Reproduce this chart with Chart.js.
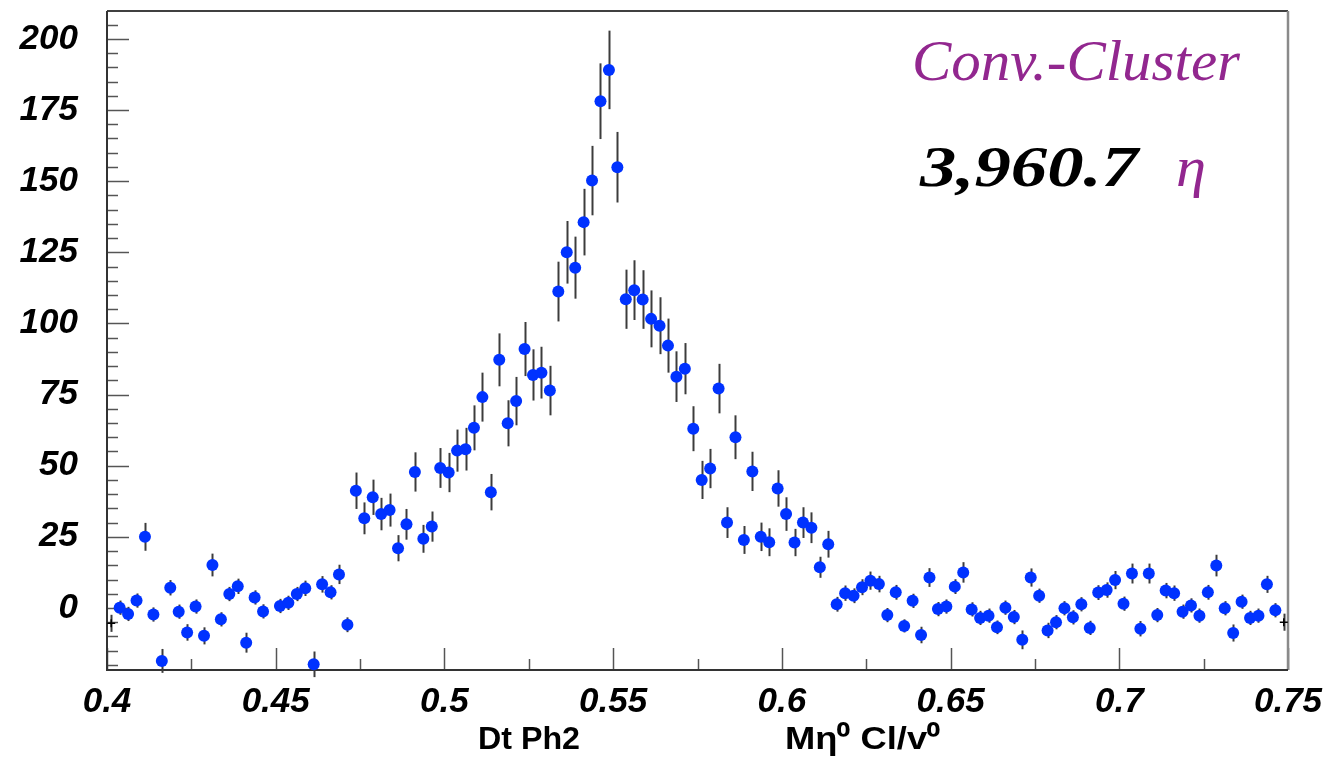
<!DOCTYPE html>
<html>
<head>
<meta charset="utf-8">
<script src="https://cdn.jsdelivr.net/npm/chart.js@4.4.1/dist/chart.umd.min.js"></script>
<style>
html,body{margin:0;padding:0;background:#fff}
#wrap{width:1332px;height:757px}
</style>
</head>
<body>
<div id="wrap"><canvas id="myChart" width="1332" height="757"></canvas></div>
<script>
// histogram binning: 140 bins of 0.0025 from 0.4 to 0.75
const BIN_LO = 0.4
const BIN_W = 0.0025

// background-subtracted counts per bin (null = no point shown)
const counts = [
  -5.4, 0.1, -2.1, 2.6, 25, -2.3, -18.6, 7.1, -1.3, -8.6,
  0.5, -9.8, 15.1, -4, 4.9, 7.6, -12.2, 3.7, -1.2, null,
  0.7, 1.8, 4.9, 6.9, -19.8, 8.3, 5.5, 11.8, -5.9, 41.2,
  31.5, 38.9, 33, 34.4, 21, 29.4, 47.8, 24.3, 28.6, 49.2,
  47.6, 55.3, 55.8, 63.3, 74.1, 40.7, 87.2, 64.9, 72.7, 91,
  81.9, 82.7, 76.4, 111.2, 125, 119.6, 135.6, 150.2, 178.1, 189.1,
  154.9, 108.5, 111.7, 108.4, 101.6, 99.2, 92.2, 81.3, 84.1, 63,
  45, 49, 77.1, 30, 60, 23.9, 48, 25, 23.1, 42,
  33, 23, 30, 28.2, 14.3, 22.4, 1.3, 5.2, 4.3, 7.3,
  9.6, 8.4, -2.5, 5.5, -6.3, 2.5, -9.5, 10.7, -0.4, 0.5,
  7.5, 12.5, -0.5, -3.5, -2.7, -6.8, 0.1, -3.2, -11.2, 10.7,
  4.3, -7.9, -5, -0.1, -3.3, 1.3, -7, 5.4, 6.3, 9.8,
  1.5, 12.1, -7.3, 12.1, -2.5, 6.1, 5.2, -1.3, 0.9, -2.7,
  5.5, 14.9, -0.1, -8.8, 2.2, -3.5, -2.7, 8.3, -0.8, -5
]
const errors = [
  3, 2.5, 2.5, 2.5, 4.9, 2.5, 4.2, 2.7, 2.5, 2.9,
  2.5, 3, 4, 2.5, 2.5, 2.7, 3.5, 2.5, 2.5, 0,
  2.5, 2.5, 2.5, 2.7, 4.5, 2.9, 2.5, 3.4, 2.6, 6.4,
  5.6, 6.2, 5.7, 5.8, 4.6, 5.4, 6.9, 4.9, 5.3, 7,
  6.9, 7.4, 7.5, 7.9, 8.6, 6.4, 9.3, 8.1, 8.5, 9.5,
  9, 9.1, 8.7, 10.5, 11, 10.9, 11.7, 12.2, 13.3, 13.8,
  12.4, 10.4, 10.5, 10.3, 10, 10, 9.5, 8.9, 9, 7.9,
  6.7, 6.9, 8.7, 5.4, 7.7, 4.9, 6.9, 5, 4.9, 6.4,
  5.9, 4.8, 5.4, 5.4, 3.7, 4.7, 2.6, 2.7, 2.6, 2.8,
  3.2, 2.9, 2.5, 2.6, 2.3, 2.5, 2.9, 3.3, 2.5, 2.5,
  2.6, 3.6, 2.5, 2.5, 2.5, 2.4, 2.5, 2.5, 3.3, 3.2,
  2.5, 2.7, 2.5, 2.5, 2.5, 2.5, 2.5, 2.6, 2.7, 3.2,
  2.5, 3.5, 2.7, 3.5, 2.5, 2.7, 2.7, 2.5, 2.5, 2.5,
  2.6, 3.8, 2.5, 3, 2.5, 2.5, 2.5, 3, 2.5, 3
]

const xTicks = [0.4, 0.45, 0.5, 0.55, 0.6, 0.65, 0.7, 0.75]
const xTickLabels = ["0.4", "0.45", "0.5", "0.55", "0.6", "0.65", "0.7", "0.75"]
const yTicks = [0, 25, 50, 75, 100, 125, 150, 175, 200]

const legendTitle = "Conv.-Cluster"
const yieldText = "3,960.7"
const yieldSymbol = "η"
const xTitleLeft = "Dt Ph2"
const xTitleRight = "Mη⁰ Cl/v⁰"

const PURPLE = '#92278f'
const LABEL_FONT = {family: "'Liberation Sans', Arial, sans-serif", size: 35, style: 'italic', weight: 'bold'}

var points = []
counts.forEach((c, i) => {
    if (c === null) return
    points.push({x: BIN_LO + BIN_W * (i + 0.5), y: c, err: errors[i], edge: (i === 0 || i === counts.length - 1)})
})

const errorBars = {
    id: 'errorBars',
    beforeDatasetsDraw(chart) {
        const ctx = chart.ctx, xs = chart.scales.x, ys = chart.scales.y
        ctx.save()
        ctx.strokeStyle = '#3c3c3c'
        ctx.lineWidth = 2
        points.forEach(p => {
            if (!p.err) return
            const px = Math.round(xs.getPixelForValue(p.x)) + 0.5
            ctx.beginPath()
            ctx.moveTo(px, ys.getPixelForValue(p.y - p.err))
            ctx.lineTo(px, ys.getPixelForValue(p.y + p.err))
            ctx.stroke()
        })
        ctx.restore()
    }
}

// ROOT style frame with inward ticks
const frame = {
    id: 'frame',
    beforeDatasetsDraw(chart) {
        const ctx = chart.ctx, a = chart.chartArea, xs = chart.scales.x, ys = chart.scales.y
        ctx.save()
        ctx.strokeStyle = '#555'
        ctx.lineWidth = 1.5
        for (let v = -20; v <= 205; v += 5) {
            const py = Math.round(ys.getPixelForValue(v)) + 0.5
            const len = (v % 25 === 0) ? 22 : 11
            ctx.beginPath(); ctx.moveTo(a.left, py); ctx.lineTo(a.left + len, py); ctx.stroke()
        }
        for (let k = 0; k <= 14; k++) {
            const v = 0.4 + k * 0.025
            const px = Math.round(xs.getPixelForValue(v)) + 0.5
            const len = (k % 2 === 0) ? 22 : 11
            ctx.beginPath(); ctx.moveTo(px, a.bottom); ctx.lineTo(px, a.bottom - len); ctx.stroke()
        }
        // frame lines
        ctx.strokeStyle = '#000'
        ctx.lineWidth = 1.5
        ctx.beginPath(); ctx.moveTo(a.left, a.top); ctx.lineTo(a.right, a.top); ctx.stroke()
        ctx.strokeStyle = '#8a8a8a'
        ctx.lineWidth = 2.5
        ctx.beginPath(); ctx.moveTo(a.right, a.top); ctx.lineTo(a.right, a.bottom); ctx.stroke()
        ctx.strokeStyle = '#333'
        ctx.lineWidth = 2
        ctx.beginPath(); ctx.moveTo(a.left, a.top); ctx.lineTo(a.left, a.bottom); ctx.lineTo(a.right, a.bottom); ctx.stroke()
        ctx.restore()
    }
}

function fitText(ctx, text, x, yBase, width, font, color) {
    ctx.font = font
    const w = ctx.measureText(text).width
    ctx.save()
    ctx.translate(x, yBase)
    ctx.scale(width / w, 1)
    ctx.fillStyle = color
    ctx.textBaseline = 'alphabetic'
    ctx.textAlign = 'left'
    ctx.fillText(text, 0, 0)
    ctx.restore()
}

const texts = {
    id: 'texts',
    afterDraw(chart) {
        const ctx = chart.ctx
        fitText(ctx, legendTitle, 912, 80, 328, "italic 56px 'Liberation Serif', serif", PURPLE)
        fitText(ctx, yieldText, 920, 186, 218, "italic bold 56px 'Liberation Serif', serif", '#000')
        fitText(ctx, yieldSymbol, 1176, 186, 30, "italic 56px 'Liberation Serif', serif", PURPLE)
        fitText(ctx, xTitleLeft, 478, 749, 102, "bold 31px 'Liberation Sans', Arial, sans-serif", '#000')
        fitText(ctx, xTitleRight, 785, 749, 155, "bold 31px 'Liberation Sans', Arial, sans-serif", '#000')
    }
}

var ctx = document.getElementById('myChart').getContext('2d')

var myChart = new Chart(ctx, {
    type: 'scatter',
    data: {
        datasets: [{
            data: points,
            pointStyle: c => (c.raw && c.raw.edge) ? 'cross' : 'circle',
            pointRadius: c => (c.raw && c.raw.edge) ? 4 : 6,
            backgroundColor: c => (c.raw && c.raw.edge) ? '#000' : '#0032ff',
            borderColor: c => (c.raw && c.raw.edge) ? '#000' : '#0032ff',
            borderWidth: c => (c.raw && c.raw.edge) ? 1.5 : 0,
            clip: false
        }]
    },
    options: {
        responsive: false,
        animation: false,
        layout: {padding: {left: 0, right: 44, top: 11, bottom: 0}},
        plugins: {legend: {display: false}, tooltip: {enabled: false}},
        scales: {
            x: {
                type: 'linear',
                min: 0.4,
                max: 0.75,
                grid: {display: false, drawTicks: false},
                border: {display: false},
                afterBuildTicks: s => { s.ticks = xTicks.map(v => ({value: v})) },
                afterFit: s => { s.height = 87; s.paddingLeft = 0; s.paddingRight = 0 },
                ticks: {
                    autoSkip: false,
                    maxRotation: 0,
                    padding: 11,
                    color: '#000',
                    font: LABEL_FONT,
                    callback: (v, i) => xTickLabels[i]
                }
            },
            y: {
                min: -21.8,
                max: 209.8,
                grid: {display: false, drawTicks: false},
                border: {display: false},
                afterBuildTicks: s => { s.ticks = yTicks.map(v => ({value: v})) },
                afterFit: s => { s.width = 107; s.paddingTop = 0; s.paddingBottom = 0 },
                ticks: {
                    autoSkip: false,
                    padding: 29,
                    color: '#000',
                    font: LABEL_FONT,
                    callback: v => String(v)
                }
            }
        }
    },
    plugins: [frame, errorBars, texts]
})
myChart.update()
</script>
</body>
</html>
